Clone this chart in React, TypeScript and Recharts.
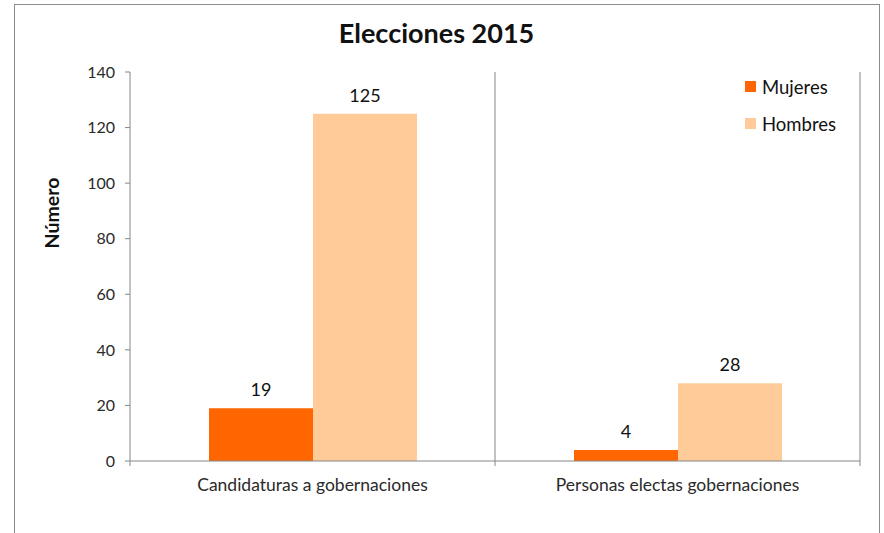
import { BarChart, Bar, XAxis, YAxis, CartesianGrid, LabelList } from "recharts";

const categories = ["Candidaturas a gobernaciones", "Personas electas gobernaciones"];
const mujeres = [19, 4];
const hombres = [125, 28];
const yTicks = [0, 20, 40, 60, 80, 100, 120, 140];

const series = [
  { key: "mujeres", name: "Mujeres", color: "#FF6600" },
  { key: "hombres", name: "Hombres", color: "#FFCC99" },
];

const data = categories.map((c, i) => ({ name: c, mujeres: mujeres[i], hombres: hombres[i] }));

const W = 884;
const H = 533;
const margin = { top: 72, right: 24, bottom: 32, left: 0 };
const yAxisWidth = 130;
const axisColor = "#868686";
const font = "Lato, 'Open Sans', sans-serif";

const plotLeft = margin.left + yAxisWidth;
const plotWidth = W - plotLeft - margin.right;
const band = plotWidth / categories.length;

// category label plus boundary ticks (ticks sit between categories, not at centres)
function CategoryTick(props: any) {
  const { x, y, payload, index } = props;
  const left = x - band / 2;
  return (
    <g>
      <line x1={left} x2={left} y1={y - 8} y2={y - 3} stroke={axisColor} />
      {index === categories.length - 1 && (
        <line x1={left + band} x2={left + band} y1={y - 8} y2={y - 3} stroke={axisColor} />
      )}
      <text x={x} y={y + 22} textAnchor="middle" fontSize={17.5} fill="#2a2a2a" fontFamily={font}>
        {payload.value}
      </text>
    </g>
  );
}

function LegendBox() {
  return (
    <div style={{ position: "absolute", left: 745, top: 68, fontFamily: font, fontSize: 18.5, color: "#111" }}>
      {series.map((s) => (
        <div key={s.key} style={{ display: "flex", alignItems: "center", height: 37 }}>
          <span style={{ width: 11, height: 11, background: s.color, marginRight: 6, display: "inline-block" }} />
          {s.name}
        </div>
      ))}
    </div>
  );
}

export default function App() {
  return (
    <div style={{ position: "fixed", left: 0, top: 0, width: W, height: H, background: "#fff", fontFamily: font }}>
      <div
        style={{
          position: "absolute",
          left: 14,
          top: 4,
          width: 866,
          height: 560,
          border: "1.5px solid #8c8c8c",
          boxSizing: "border-box",
        }}
      />
      <div
        style={{
          position: "absolute",
          top: 16,
          left: 0,
          width: 873,
          textAlign: "center",
          fontSize: 27,
          fontWeight: 700,
          color: "#111",
        }}
      >
        Elecciones 2015
      </div>
      <div style={{ position: "absolute", left: 0, top: 0 }}>
        <BarChart width={W} height={H} data={data} margin={margin} barGap={0} barSize={104}>
          <CartesianGrid
            horizontal={false}
            stroke={axisColor}
            strokeDasharray=""
            verticalCoordinatesGenerator={({ offset }: any) => [
              offset.left + offset.width / 2,
              offset.left + offset.width,
            ]}
          />
          <XAxis
            dataKey="name"
            stroke={axisColor}
            tickLine={false}
            height={40}
            interval={0}
            tick={<CategoryTick />}
          />
          <YAxis
            width={yAxisWidth}
            domain={[0, 140]}
            ticks={yTicks}
            interval={0}
            stroke={axisColor}
            tickSize={5}
            tickMargin={10}
            tick={{ fill: "#2a2a2a", fontSize: 16, fontFamily: font }}
            label={{
              content: () => (
                <text
                  x={59}
                  y={213}
                  transform="rotate(-90 59 213)"
                  textAnchor="middle"
                  fontSize={19.5}
                  fontWeight={700}
                  fill="#111"
                  fontFamily={font}
                >
                  Número
                </text>
              ),
            }}
          />
          {series.map((s) => (
            <Bar key={s.key} dataKey={s.key} name={s.name} fill={s.color} isAnimationActive={false}>
              <LabelList
                dataKey={s.key}
                position="top"
                offset={12}
                fontSize={18}
                fill="#111"
                fontFamily={font}
              />
            </Bar>
          ))}
        </BarChart>
      </div>
      <LegendBox />
    </div>
  );
}
